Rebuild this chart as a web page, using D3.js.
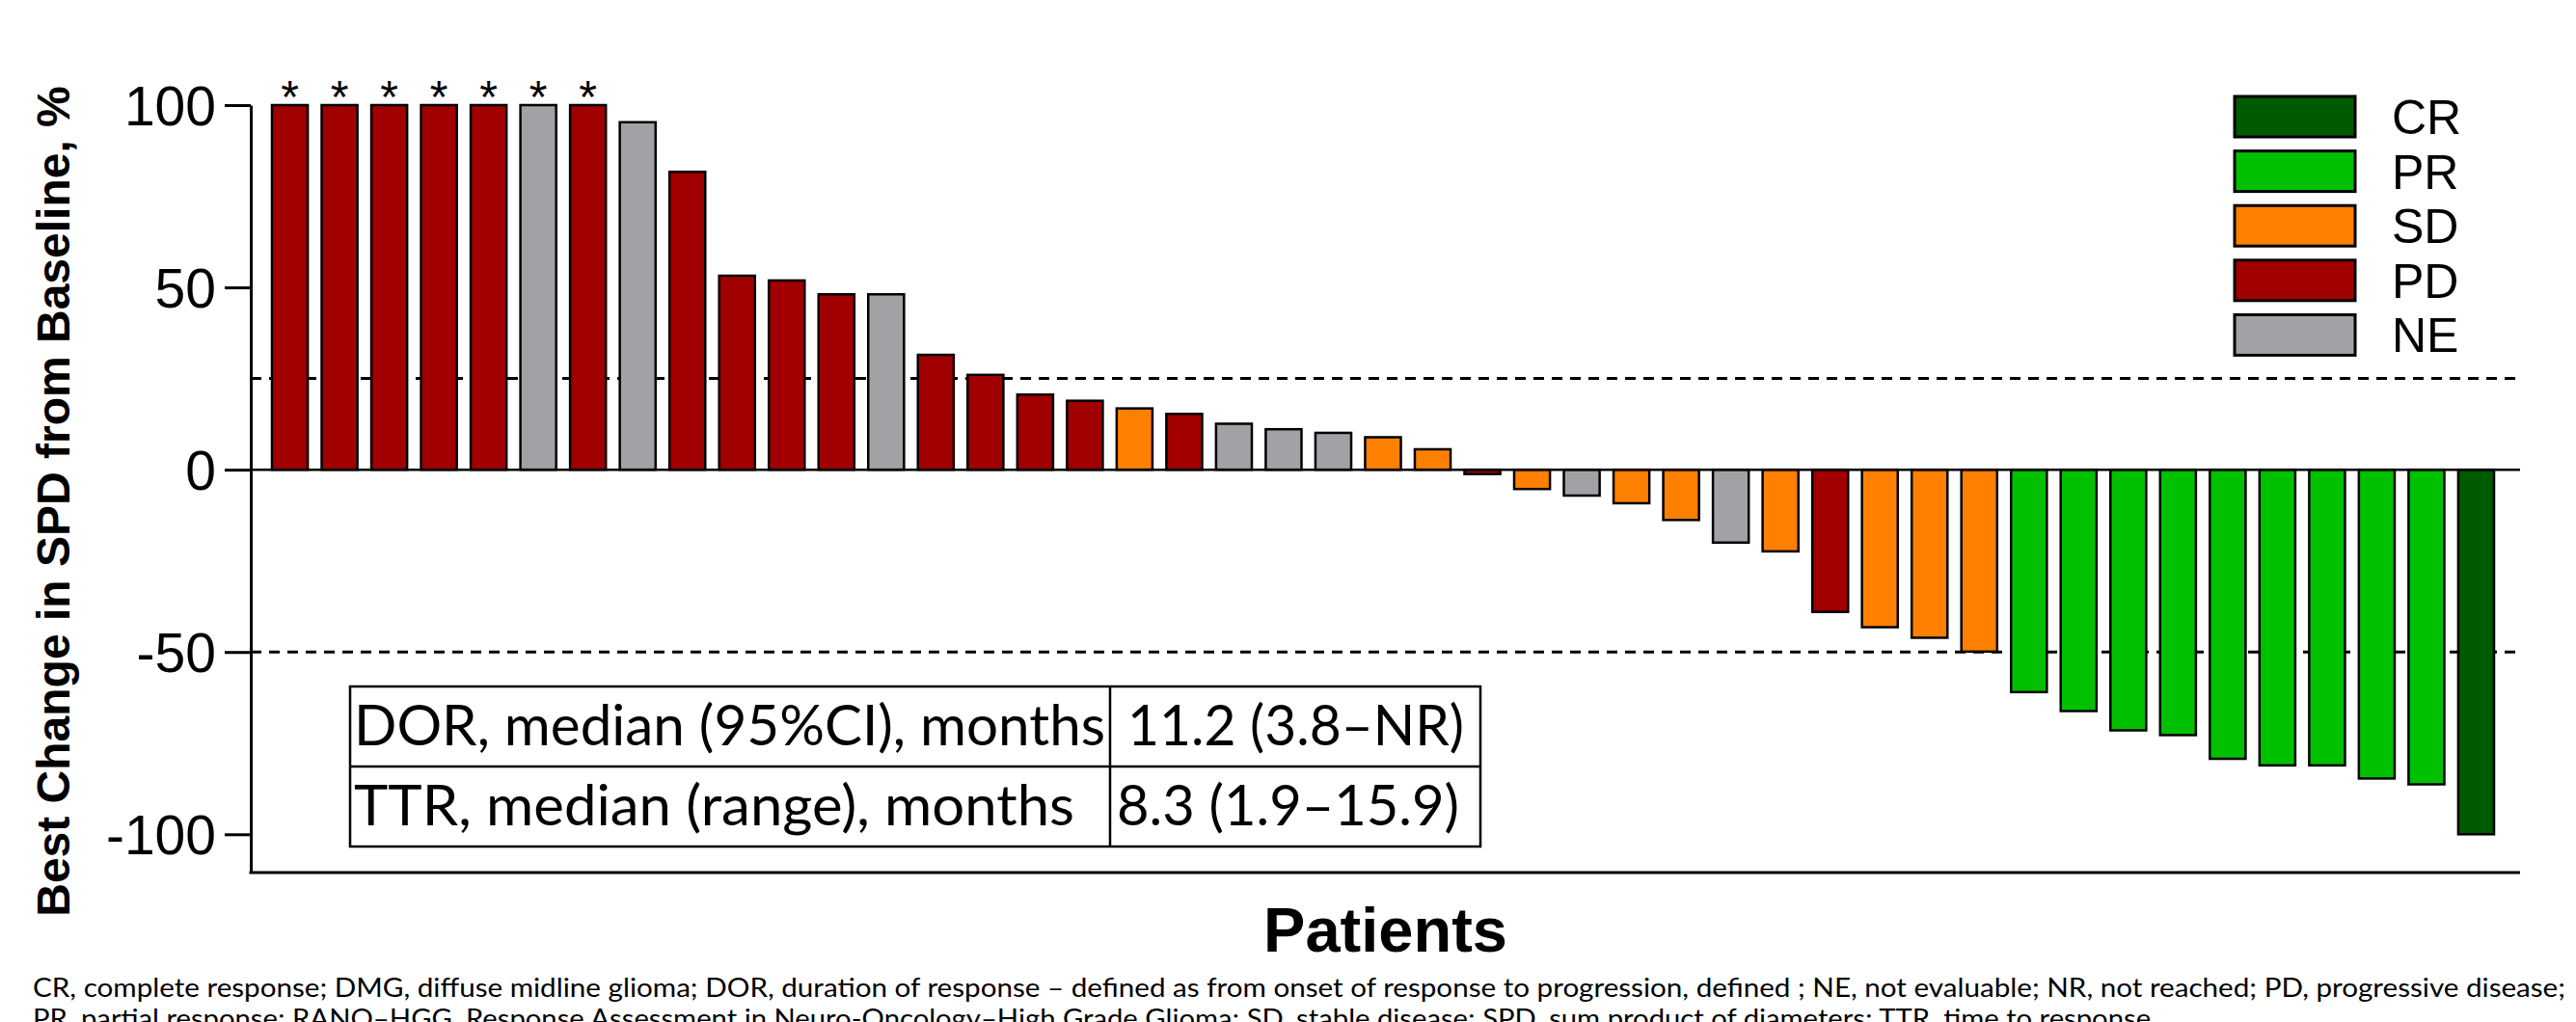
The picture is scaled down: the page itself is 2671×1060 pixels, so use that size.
<!DOCTYPE html>
<html>
<head>
<meta charset="utf-8">
<script src="https://cdn.jsdelivr.net/npm/d3@7"></script>
<style>
  body { margin: 0; background: #fff; }
  svg { display: block; }
</style>
</head>
<body>
<svg id="chart"></svg>
<script>
// best change in SPD from baseline, one value per patient (sorted)
const changes = [100, 100, 100, 100, 100, 100, 100, 95.3, 81.7, 53.2, 51.9, 48.1, 48.1,
  31.5, 26, 20.6, 18.9, 16.8, 15.3, 12.6, 11.1, 10.1, 8.9, 5.6, -1.2, -5.3, -7.1, -9.2,
  -13.8, -20, -22.4, -39, -43.2, -46.1, -49.9, -61, -66.2, -71.5, -72.8, -79.3, -81.1,
  -81.1, -84.7, -86.3, -100];
const responses = ['PD', 'PD', 'PD', 'PD', 'PD', 'NE', 'PD', 'NE', 'PD', 'PD', 'PD', 'PD', 'NE',
  'PD', 'PD', 'PD', 'PD', 'SD', 'PD', 'NE', 'NE', 'NE', 'SD', 'SD', 'PD', 'SD', 'NE', 'SD',
  'SD', 'NE', 'SD', 'PD', 'SD', 'SD', 'SD', 'PR', 'PR', 'PR', 'PR', 'PR', 'PR', 'PR', 'PR',
  'PR', 'CR'];
// patients marked with an asterisk (values capped at 100)
const starred = [0, 1, 2, 3, 4, 5, 6];

const categories = ['CR', 'PR', 'SD', 'PD', 'NE'];
const colors = ['#005a00', '#00c000', '#ff8000', '#a00000', '#a2a1a6'];

const yTicks = [-100, -50, 0, 50, 100];
const refLines = [25, -50];

const tableRows = [
  ['DOR, median (95%CI), months', '11.2 (3.8\u2013NR)'],
  ['TTR, median (range), months', '8.3 (1.9\u201315.9)']
];
const footnotes = [
  'CR, complete response; DMG, diffuse midline glioma; DOR, duration of response \u2013 defined as from onset of response to progression, defined ; NE, not evaluable; NR, not reached; PD, progressive disease;',
  'PR, partial response; RANO\u2013HGG, Response Assessment in Neuro-Oncology\u2013High Grade Glioma; SD, stable disease; SPD, sum product of diameters; TTR, time to response.'
];

const width = 2671, height = 1060;
const plot = { left: 260, right: 2613, top: 109, bottom: 905 };
const sans = 'Liberation Sans, Arial, sans-serif';
const calibri = 'Lato, Open Sans, sans-serif';

const svg = d3.select('#chart')
  .attr('width', width)
  .attr('height', height)
  .style('background', '#fff');

const patients = changes.map((v, i) => ({ i, value: v, resp: responses[i] }));

const x = d3.scaleBand()
  .domain(d3.range(patients.length))
  .range([282, 2586])
  .paddingInner(0.28)
  .paddingOuter(0);

const y = d3.scaleLinear()
  .domain([-110.5, 100])
  .range([plot.bottom, plot.top]);

const color = d3.scaleOrdinal().domain(categories).range(colors);

// dashed reference lines (behind the bars)
svg.selectAll('.ref')
  .data(refLines)
  .enter()
  .append('line')
  .attr('class', 'ref')
  .attr('x1', plot.left)
  .attr('x2', plot.right)
  .attr('y1', d => y(d))
  .attr('y2', d => y(d))
  .attr('stroke', '#000')
  .attr('stroke-width', 3)
  .attr('stroke-dasharray', '11,8');

// bars
svg.selectAll('.bar')
  .data(patients)
  .enter()
  .append('rect')
  .attr('class', 'bar')
  .attr('x', d => x(d.i))
  .attr('width', x.bandwidth())
  .attr('y', d => y(Math.max(0, d.value)))
  .attr('height', d => Math.abs(y(d.value) - y(0)))
  .attr('fill', d => color(d.resp))
  .attr('stroke', '#000')
  .attr('stroke-width', 2.5);

// asterisks
svg.selectAll('.star')
  .data(starred)
  .enter()
  .append('text')
  .attr('class', 'star')
  .attr('x', d => x(d) + x.bandwidth() / 2)
  .attr('y', y(100) + 8)
  .attr('text-anchor', 'middle')
  .style('font-family', sans)
  .style('font-size', '48px')
  .text('*');

// zero line
svg.append('line')
  .attr('x1', plot.left)
  .attr('x2', plot.right)
  .attr('y1', y(0))
  .attr('y2', y(0))
  .attr('stroke', '#000')
  .attr('stroke-width', 2.5);

// y axis
const yAxis = svg.append('g')
  .attr('transform', `translate(${plot.left},0)`)
  .call(d3.axisLeft(y).tickValues(yTicks).tickFormat(d => String(d))
    .tickSize(27).tickSizeOuter(0).tickPadding(9));
yAxis.select('.domain').attr('stroke-width', 3);
yAxis.selectAll('.tick line').attr('stroke-width', 3);
yAxis.selectAll('.tick text')
  .attr('dy', '0.36em')
  .style('font-family', sans)
  .style('font-size', '57px')
  .attr('fill', '#000');

// x axis line
svg.append('line')
  .attr('x1', plot.left - 1.5)
  .attr('x2', plot.right)
  .attr('y1', plot.bottom)
  .attr('y2', plot.bottom)
  .attr('stroke', '#000')
  .attr('stroke-width', 3);

// axis titles
svg.append('text')
  .attr('transform', `translate(72,520) rotate(-90)`)
  .attr('text-anchor', 'middle')
  .style('font-family', sans)
  .style('font-weight', 'bold')
  .style('font-size', '48px')
  .text('Best Change in SPD from Baseline, %');

svg.append('text')
  .attr('x', (plot.left + plot.right) / 2)
  .attr('y', 987)
  .attr('text-anchor', 'middle')
  .style('font-family', sans)
  .style('font-weight', 'bold')
  .style('font-size', '65px')
  .text('Patients');

// legend
const legend = svg.append('g').attr('transform', 'translate(2317,100)');
const item = legend.selectAll('.item')
  .data(categories)
  .enter()
  .append('g')
  .attr('class', 'item')
  .attr('transform', (d, i) => `translate(0,${i * 56.6})`);
item.append('rect')
  .attr('width', 125)
  .attr('height', 42)
  .attr('fill', d => color(d))
  .attr('stroke', '#000')
  .attr('stroke-width', 3);
item.append('text')
  .attr('x', 163)
  .attr('y', 39)
  .style('font-family', sans)
  .style('font-size', '50px')
  .text(d => d);

// summary table
const table = { left: 363, mid: 1151, right: 1535, top: 712, rowH: 83 };
const tg = svg.append('g');
tg.append('rect')
  .attr('x', table.left)
  .attr('y', table.top)
  .attr('width', table.right - table.left)
  .attr('height', table.rowH * tableRows.length)
  .attr('fill', '#fff')
  .attr('stroke', '#000')
  .attr('stroke-width', 2.5);
tg.append('line')
  .attr('x1', table.mid).attr('x2', table.mid)
  .attr('y1', table.top).attr('y2', table.top + table.rowH * tableRows.length)
  .attr('stroke', '#000').attr('stroke-width', 2.5);
tg.append('line')
  .attr('x1', table.left).attr('x2', table.right)
  .attr('y1', table.top + table.rowH).attr('y2', table.top + table.rowH)
  .attr('stroke', '#000').attr('stroke-width', 2.5);

const labelW = [779, 747];
const valueX = [1169, 1158];
const valueW = [349, 355];
tableRows.forEach((row, r) => {
  const base = table.top + r * table.rowH + 61;
  tg.append('text')
    .attr('x', 367)
    .attr('y', base)
    .attr('textLength', labelW[r])
    .attr('lengthAdjust', 'spacingAndGlyphs')
    .style('font-family', calibri)
    .style('font-size', '58px')
    .text(row[0]);
  tg.append('text')
    .attr('x', valueX[r])
    .attr('y', base)
    .attr('textLength', valueW[r])
    .attr('lengthAdjust', 'spacingAndGlyphs')
    .style('font-family', calibri)
    .style('font-size', '58px')
    .text(row[1]);
});

// footnote
const footW = [2626, 2203];
svg.selectAll('.foot')
  .data(footnotes)
  .enter()
  .append('text')
  .attr('class', 'foot')
  .attr('x', 34)
  .attr('y', (d, i) => 1034 + i * 32)
  .attr('textLength', (d, i) => footW[i])
  .attr('lengthAdjust', 'spacingAndGlyphs')
  .style('font-family', calibri)
  .style('font-size', '26px')
  .text(d => d);
</script>
</body>
</html>
